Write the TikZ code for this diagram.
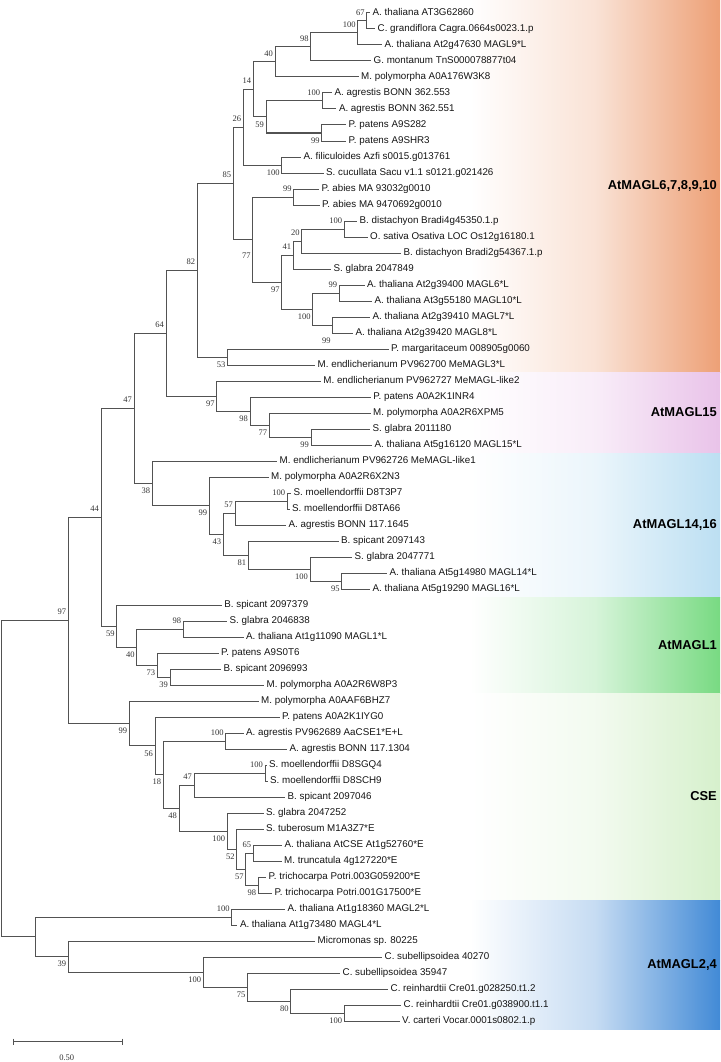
\documentclass[tikz,border=0pt]{standalone}
\usepackage{fontspec}
\setmainfont{Liberation Sans}
\newfontfamily\bootfont{Liberation Serif}
\definecolor{bandorange}{RGB}{237,160,118}
\definecolor{bandpink}{RGB}{233,195,233}
\definecolor{bandsky}{RGB}{188,223,242}
\definecolor{bandgreen}{RGB}{120,218,130}
\definecolor{bandpale}{RGB}{214,240,204}
\definecolor{bandblue}{RGB}{66,138,214}
\begin{document}
\begin{tikzpicture}[x=1pt,y=-1pt,
  branch/.style={line width=1pt,draw=black!68},
  leaf/.style={anchor=west,inner sep=2.5pt,text=black!92,text height=7pt,text depth=2pt,
    font=\fontsize{9.8}{11}\selectfont},
  boot/.style={anchor=east,inner sep=1pt,xshift=-1pt,text=black!80,font=\bootfont\fontsize{8.5}{9}\selectfont},
  ba/.style={boot,yshift=8.5pt},
  bb/.style={boot,yshift=-7.5pt},
  bl/.style={boot,yshift=-16pt},
  band/.style={left color=white,right color=#1,middle color=#1!30},
  clade/.style={anchor=east,inner sep=1pt,font=\bfseries\fontsize{12.9}{14}\selectfont}]
  \useasboundingbox (0,0) rectangle (720,1062);
  % clade bands
  \shade[band=bandorange] (470,0) rectangle (720,372);
  \shade[band=bandpink] (470,372) rectangle (720,453);
  \shade[band=bandsky] (470,453) rectangle (720,597);
  \shade[band=bandgreen] (470,597) rectangle (720,693);
  \shade[band=bandpale] (470,693) rectangle (720,900);
  \shade[band=bandblue] (470,900) rectangle (720,1029);
  \node[clade] (c1) at (718,186) {AtMAGL6,7,8,9,10};
  \node[clade] (c2) at (718,412.5) {AtMAGL15};
  \node[clade] (c3) at (718,525) {AtMAGL14,16};
  \node[clade] (c4) at (718,645) {AtMAGL1};
  \node[clade] (c5) at (718,796.5) {CSE};
  \node[clade] (c6) at (718,964.5) {AtMAGL2,4};
  % leaves
  \foreach \tip/\name [count=\i from 0] in {
    370/{A. thaliana AT3G62860},
    375/{C. grandiflora Cagra.0664s0023.1.p},
    382/{A. thaliana At2g47630 MAGL9*L},
    371/{G. montanum TnS000078877t04},
    358.5/{M. polymorpha A0A176W3K8},
    332/{A. agrestis BONN 362.553},
    336.3/{A. agrestis BONN 362.551},
    346/{P. patens A9S282},
    346/{P. patens A9SHR3},
    301/{A. filiculoides Azfi s0015.g013761},
    323.5/{S. cucullata Sacu v1.1 s0121.g021426},
    319/{P. abies MA 93032g0010},
    319.5/{P. abies MA 9470692g0010},
    357/{B. distachyon Bradi4g45350.1.p},
    367.5/{O. sativa Osativa LOC Os12g16180.1},
    401/{B. distachyon Bradi2g54367.1.p},
    331/{S. glabra 2047849},
    364.5/{A. thaliana At2g39400 MAGL6*L},
    372/{A. thaliana At3g55180 MAGL10*L},
    370/{A. thaliana At2g39410 MAGL7*L},
    353/{A. thaliana At2g39420 MAGL8*L},
    388.5/{P. margaritaceum 008905g0060},
    315/{M. endlicherianum PV962700 MeMAGL3*L},
    320.7/{M. endlicherianum PV962727 MeMAGL-like2},
    370.7/{P. patens A0A2K1INR4},
    370.5/{M. polymorpha A0A2R6XPM5},
    370/{S. glabra 2011180},
    372/{A. thaliana At5g16120 MAGL15*L},
    277/{M. endlicherianum PV962726 MeMAGL-like1},
    268.5/{M. polymorpha A0A2R6X2N3},
    291/{S. moellendorffii D8T3P7},
    289.5/{S. moellendorffii D8TA66},
    286/{A. agrestis BONN 117.1645},
    338.5/{B. spicant 2097143},
    352/{S. glabra 2047771},
    387/{A. thaliana At5g14980 MAGL14*L},
    370/{A. thaliana At5g19290 MAGL16*L},
    221.7/{B. spicant 2097379},
    227/{S. glabra 2046838},
    243.5/{A. thaliana At1g11090 MAGL1*L},
    218.5/{P. patens A9S0T6},
    221/{B. spicant 2096993},
    264/{M. polymorpha A0A2R6W8P3},
    258.5/{M. polymorpha A0AAF6BHZ7},
    279.5/{P. patens A0A2K1IYG0},
    243.5/{A. agrestis PV962689 AaCSE1*E+L},
    287/{A. agrestis BONN 117.1304},
    266.5/{S. moellendorffii D8SGQ4},
    267.5/{S. moellendorffii D8SCH9},
    285/{B. spicant 2097046},
    263.5/{S. glabra 2047252},
    263.5/{S. tuberosum M1A3Z7*E},
    282/{A. thaliana AtCSE At1g52760*E},
    281.5/{M. truncatula 4g127220*E},
    266/{P. trichocarpa Potri.003G059200*E},
    272/{P. trichocarpa Potri.001G17500*E},
    285/{A. thaliana At1g18360 MAGL2*L},
    237.3/{A. thaliana At1g73480 MAGL4*L},
    315/{Micromonas sp. 80225},
    382/{C. subellipsoidea 40270},
    340/{C. subellipsoidea 35947},
    388/{C. reinhardtii Cre01.g028250.t1.2},
    401/{C. reinhardtii Cre01.g038900.t1.1},
    399.5/{V. carteri Vocar.0001s0802.1.p}}
    \node[leaf] (l\i) at (\tip,{13+16*\i}) {\name};
  % inner nodes
  \coordinate (n67) at (366.7,21);
  \coordinate (n100a) at (357.7,33);
  \coordinate (n98) at (310.7,47);
  \coordinate (n40) at (275,62);
  \coordinate (n100b) at (322.3,101);
  \coordinate (n99a) at (321.7,133);
  \coordinate (n59) at (266,117);
  \coordinate (n14) at (253.3,89.5);
  \coordinate (n100c) at (281.7,165);
  \coordinate (n26) at (243.3,127.25);
  \coordinate (n99b) at (293.7,197);
  \coordinate (n100e) at (344.3,229);
  \coordinate (n20) at (301.7,241);
  \coordinate (n41) at (293.3,255);
  \coordinate (n99c) at (339.3,293);
  \coordinate (n99d) at (332.7,325);
  \coordinate (n100d) at (312.7,309);
  \coordinate (n97a) at (281.7,282);
  \coordinate (n77) at (252.7,239.5);
  \coordinate (n85) at (233.3,183.4);
  \coordinate (n53) at (227.5,357);
  \coordinate (n82) at (197.3,270.2);
  \coordinate (n99e) at (311,437);
  \coordinate (n77b) at (269.3,425);
  \coordinate (n98b) at (250,411);
  \coordinate (n97b) at (216.7,396);
  \coordinate (n64) at (166,333.1);
  \coordinate (n100f) at (287.3,501);
  \coordinate (n57) at (235,513);
  \coordinate (n95) at (341.7,581);
  \coordinate (n100g) at (310,569);
  \coordinate (n81) at (248.3,555);
  \coordinate (n43) at (223.3,534);
  \coordinate (n99f) at (209.3,505.5);
  \coordinate (n38) at (152.3,483.25);
  \coordinate (n47) at (134,408.2);
  \coordinate (n98c) at (183.3,629);
  \coordinate (n39b) at (170,677);
  \coordinate (n73) at (157.3,665);
  \coordinate (n40b) at (136.7,647);
  \coordinate (n59b) at (116.7,626);
  \coordinate (n44) at (101,517.1);
  \coordinate (n100h) at (225.7,741);
  \coordinate (n100j) at (265,773);
  \coordinate (n47b) at (194,785);
  \coordinate (n65) at (253.3,853);
  \coordinate (n98d) at (258.3,885);
  \coordinate (n57b) at (245.7,869);
  \coordinate (n52) at (236.7,849);
  \coordinate (n100i) at (227.3,831);
  \coordinate (n48) at (179,808);
  \coordinate (n18) at (163.3,774.5);
  \coordinate (n56) at (155,745.75);
  \coordinate (n99g) at (129.3,723.4);
  \coordinate (n97) at (68.3,620.2);
  \coordinate (n100m) at (231.7,917);
  \coordinate (n100o) at (344.3,1013);
  \coordinate (n80) at (290.7,1001);
  \coordinate (n75) at (247.5,987);
  \coordinate (n100n) at (203.3,972);
  \coordinate (n39c) at (68.3,956.5);
  \coordinate (nA) at (35,936.75);
  \coordinate (root) at (1.5,778.5);
  % branches
  \foreach \p/\c in {n67/l0,n67/l1,n100a/n67,n100a/l2,n98/n100a,n98/l3,n40/n98,n40/l4,
    n100b/l5,n100b/l6,n99a/l7,n99a/l8,n59/n100b,n59/n99a,n14/n40,n14/n59,
    n100c/l9,n100c/l10,n26/n14,n26/n100c,n99b/l11,n99b/l12,n100e/l13,n100e/l14,
    n20/n100e,n20/l15,n41/n20,n41/l16,n99c/l17,n99c/l18,n99d/l19,n99d/l20,
    n100d/n99c,n100d/n99d,n97a/n41,n97a/n100d,n77/n99b,n77/n97a,n85/n26,n85/n77,
    n53/l21,n53/l22,n82/n85,n82/n53,n99e/l26,n99e/l27,n77b/l25,n77b/n99e,
    n98b/l24,n98b/n77b,n97b/l23,n97b/n98b,n64/n82,n64/n97b,
    n100f/l30,n100f/l31,n57/n100f,n57/l32,n95/l35,n95/l36,n100g/l34,n100g/n95,
    n81/l33,n81/n100g,n43/n57,n43/n81,n99f/l29,n99f/n43,n38/l28,n38/n99f,
    n47/n64,n47/n38,n98c/l38,n98c/l39,n39b/l41,n39b/l42,n73/l40,n73/n39b,
    n40b/n98c,n40b/n73,n59b/l37,n59b/n40b,n44/n47,n44/n59b,
    n100h/l45,n100h/l46,n100j/l47,n100j/l48,n47b/n100j,n47b/l49,n65/l52,n65/l53,
    n98d/l54,n98d/l55,n57b/n65,n57b/n98d,n52/l51,n52/n57b,n100i/l50,n100i/n52,
    n48/n47b,n48/n100i,n18/n100h,n18/n48,n56/l44,n56/n18,n99g/l43,n99g/n56,
    n97/n44,n97/n99g,n100m/l56,n100m/l57,n100o/l62,n100o/l63,n80/l61,n80/n100o,
    n75/l60,n75/n80,n100n/l59,n100n/n75,n39c/l58,n39c/n100n,nA/n100m,nA/n39c,
    root/n97,root/nA}
    \draw[branch] (\p) |- (\c);
  % bootstrap values
  \foreach \n/\v/\s in {n67/67/ba,n100a/100/ba,n98/98/ba,n40/40/ba,n14/14/ba,n59/59/bb,
    n100b/100/ba,n99a/99/bb,n26/26/ba,n100c/100/bb,n85/85/ba,n99b/99/ba,n77/77/bl,
    n20/20/ba,n100e/100/ba,n41/41/ba,n97a/97/bb,n99c/99/ba,n100d/100/bb,n99d/99/bl,
    n82/82/ba,n64/64/ba,n53/53/bb,n97b/97/bb,n98b/98/bb,n77b/77/bb,n99e/99/bb,
    n47/47/ba,n38/38/bb,n44/44/ba,n99f/99/bb,n100f/100/ba,n57/57/ba,n43/43/bb,
    n81/81/bb,n100g/100/bb,n95/95/bb,n97/97/ba,n59b/59/bb,n98c/98/ba,n40b/40/bb,
    n73/73/bb,n39b/39/bb,n99g/99/bb,n56/56/bb,n18/18/bb,n100h/100/ba,n48/48/bb,
    n47b/47/ba,n100j/100/ba,n100i/100/bb,n52/52/bb,n65/65/ba,n57b/57/bb,n98d/98/bb,
    n100m/100/ba,n39c/39/bb,n100n/100/bb,n75/75/bb,n80/80/bb,n100o/100/bb}
    \node[\s] at (\n) {\v};
  % scale bar
  \coordinate (sb1) at (13.3,1041.7);
  \coordinate (sb2) at (122.3,1041.7);
  \draw[branch,line width=.8pt] (sb1) -- (sb2);
  \draw[branch,line width=.8pt] ([yshift=3pt]sb1) -- ([yshift=-3pt]sb1);
  \draw[branch,line width=.8pt] ([yshift=3pt]sb2) -- ([yshift=-3pt]sb2);
  \node[boot,anchor=center,xshift=0pt] (sbl) at (67.8,1058) {0.50};
\end{tikzpicture}
\end{document}
